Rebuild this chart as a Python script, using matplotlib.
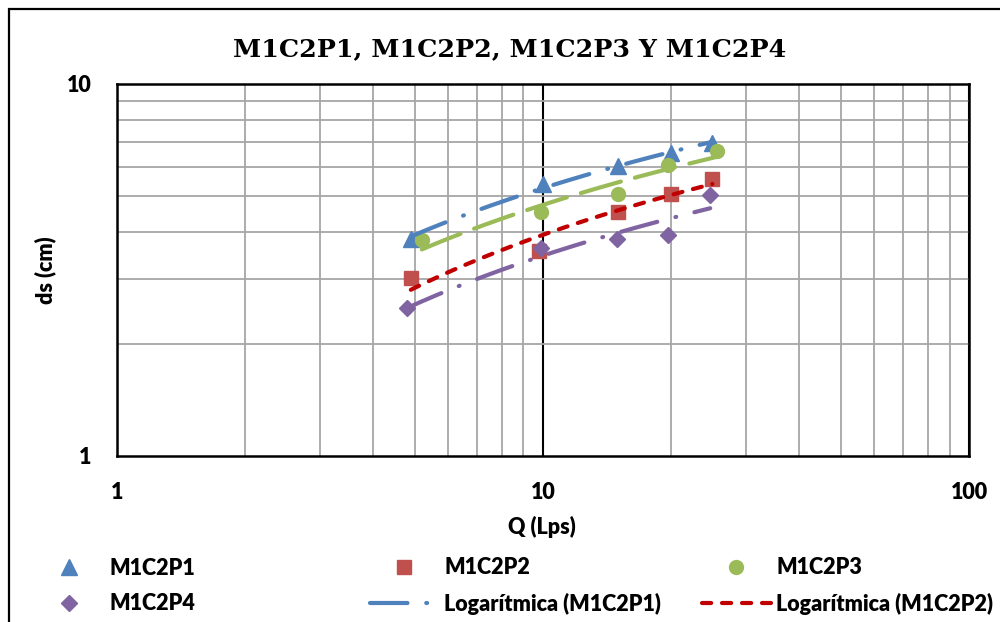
import numpy as np
import matplotlib
matplotlib.use("Agg")
import matplotlib.pyplot as plt
from matplotlib.patches import Rectangle
from matplotlib.ticker import LogLocator, NullFormatter, FixedLocator, FixedFormatter

# ---- data ----
q_p1 = [4.9, 10.0, 15.0, 20.0, 25.0]
ds_p1 = [3.82, 5.38, 6.02, 6.54, 6.96]
q_p2 = [4.9, 9.8, 15.0, 20.0, 25.0]
ds_p2 = [3.01, 3.55, 4.53, 5.05, 5.55]
q_p3 = [5.2, 9.9, 15.0, 19.7, 25.6]
ds_p3 = [3.81, 4.53, 5.05, 6.05, 6.59]
q_p4 = [4.8, 9.9, 14.9, 19.7, 24.7]
ds_p4 = [2.50, 3.63, 3.82, 3.92, 5.02]

x_ticks = [1, 10, 100]
x_tick_labels = ["1", "10", "100"]
y_ticks = [1, 10]
y_tick_labels = ["1", "10"]

title = "M1C2P1, M1C2P2, M1C2P3 Y M1C2P4"
xlabel = "Q (Lps)"
ylabel = "ds (cm)"

C_BLUE = "#4F81BD"
C_RED = "#C0504D"
C_RED_T = "#C00000"
C_GREEN = "#9BBB59"
C_PURPLE = "#8064A2"

FONT = "Lato"
FW = "heavy"
FS = 15.5

fig = plt.figure(figsize=(10, 6.22), dpi=100)
ax = fig.add_axes([0.1167, 1 - 456 / 622, (969 - 116.7) / 1000, (456 - 84) / 622])

ax.set_xscale("log")
ax.set_yscale("log")
ax.set_xlim(1, 100)
ax.set_ylim(1, 10)

# grid
ax.xaxis.set_minor_locator(LogLocator(base=10, subs=np.arange(2, 10)))
ax.yaxis.set_minor_locator(LogLocator(base=10, subs=np.arange(2, 10)))
ax.xaxis.set_minor_formatter(NullFormatter())
ax.yaxis.set_minor_formatter(NullFormatter())
ax.grid(True, which="minor", axis="both", color="#A6A6A6", lw=1.3, zorder=0)
ax.grid(True, which="major", axis="x", color="black", lw=1.5, zorder=0)
ax.set_axisbelow(True)

ax.xaxis.set_major_locator(FixedLocator(x_ticks))
ax.xaxis.set_major_formatter(FixedFormatter(x_tick_labels))
ax.yaxis.set_major_locator(FixedLocator(y_ticks))
ax.yaxis.set_major_formatter(FixedFormatter(y_tick_labels))
ax.tick_params(which="both", length=0)
ax.tick_params(axis="x", pad=19)
ax.tick_params(axis="y", pad=18)
for lab in ax.get_xticklabels() + ax.get_yticklabels():
    lab.set_fontfamily(FONT)
    lab.set_fontweight(FW)
    lab.set_fontsize(FS)

for s in ax.spines.values():
    s.set_color("black")
    s.set_linewidth(1.8)

# markers
ms = 10
h1, = ax.plot(q_p1, ds_p1, ls="none", marker="^", ms=ms + 1, color=C_BLUE, zorder=3, label="M1C2P1")
h2, = ax.plot(q_p2, ds_p2, ls="none", marker="s", ms=ms - 0.5, color=C_RED, zorder=3, label="M1C2P2")
h3, = ax.plot(q_p3, ds_p3, ls="none", marker="o", ms=ms, color=C_GREEN, zorder=3, label="M1C2P3")
h4, = ax.plot(q_p4, ds_p4, ls="none", marker="D", ms=ms - 2, color=C_PURPLE, zorder=3, label="M1C2P4")

# logarithmic trendlines (y = a ln x + b)
def trend(q, d):
    q = np.asarray(q); d = np.asarray(d)
    a, b = np.polyfit(np.log(q), d, 1)
    xx = np.geomspace(q.min(), q.max(), 200)
    return xx, a * np.log(xx) + b

LW = 3.0
dashdot = (0, (9, 4.5, 0.2, 4.5))
xx, yy = trend(q_p1, ds_p1)
t1, = ax.plot(xx, yy, color=C_BLUE, lw=LW, ls=dashdot, dash_capstyle="round",
              zorder=4, label="Logarítmica (M1C2P1)")
xx, yy = trend(q_p2, ds_p2)
t2, = ax.plot(xx, yy, color=C_RED_T, lw=LW, ls=(0, (2.2, 2.6)), dash_capstyle="round",
              zorder=4, label="Logarítmica (M1C2P2)")
xx, yy = trend(q_p3, ds_p3)
ax.plot(xx, yy, color=C_GREEN, lw=LW, ls=(0, (10, 3.5)), dash_capstyle="round", zorder=4)
xx, yy = trend(q_p4, ds_p4)
ax.plot(xx, yy, color=C_PURPLE, lw=LW, ls=dashdot, dash_capstyle="round", zorder=4)

# titles / labels
fig.text(0.510, 1 - 49 / 622, title, ha="center", va="center",
         fontfamily="DejaVu Serif", fontweight="bold", fontsize=18.3)
fig.text(0.542, 1 - 527 / 622, xlabel, ha="center", va="center",
         fontfamily=FONT, fontweight=FW, fontsize=FS)
fig.text(0.045, 1 - 270 / 622, ylabel, ha="center", va="center", rotation=90,
         fontfamily=FONT, fontweight=FW, fontsize=FS)

# legend: three columns
leg_kw = dict(frameon=False, loc="center left", borderpad=0, borderaxespad=0,
              handlelength=3.2, handletextpad=0.25, labelspacing=0.68,
              prop={"family": FONT, "weight": FW, "size": FS})
cols = [([h1, h4], 35), ([h2, t1], 370), ([h3, t2], 702)]
for handles, xpx in cols:
    fig.legend(handles=handles, labels=[h.get_label() for h in handles],
               bbox_to_anchor=(xpx / 1000, 1 - 586 / 622), **leg_kw)

# outer chart border (cropped at right/bottom)
fig.patches.append(Rectangle((9 / 1000, -0.2), 1.2, 1.2 - 9 / 622,
                             transform=fig.transFigure, fill=False, ec="black", lw=1.6))

fig.savefig("out.png", dpi=100)
